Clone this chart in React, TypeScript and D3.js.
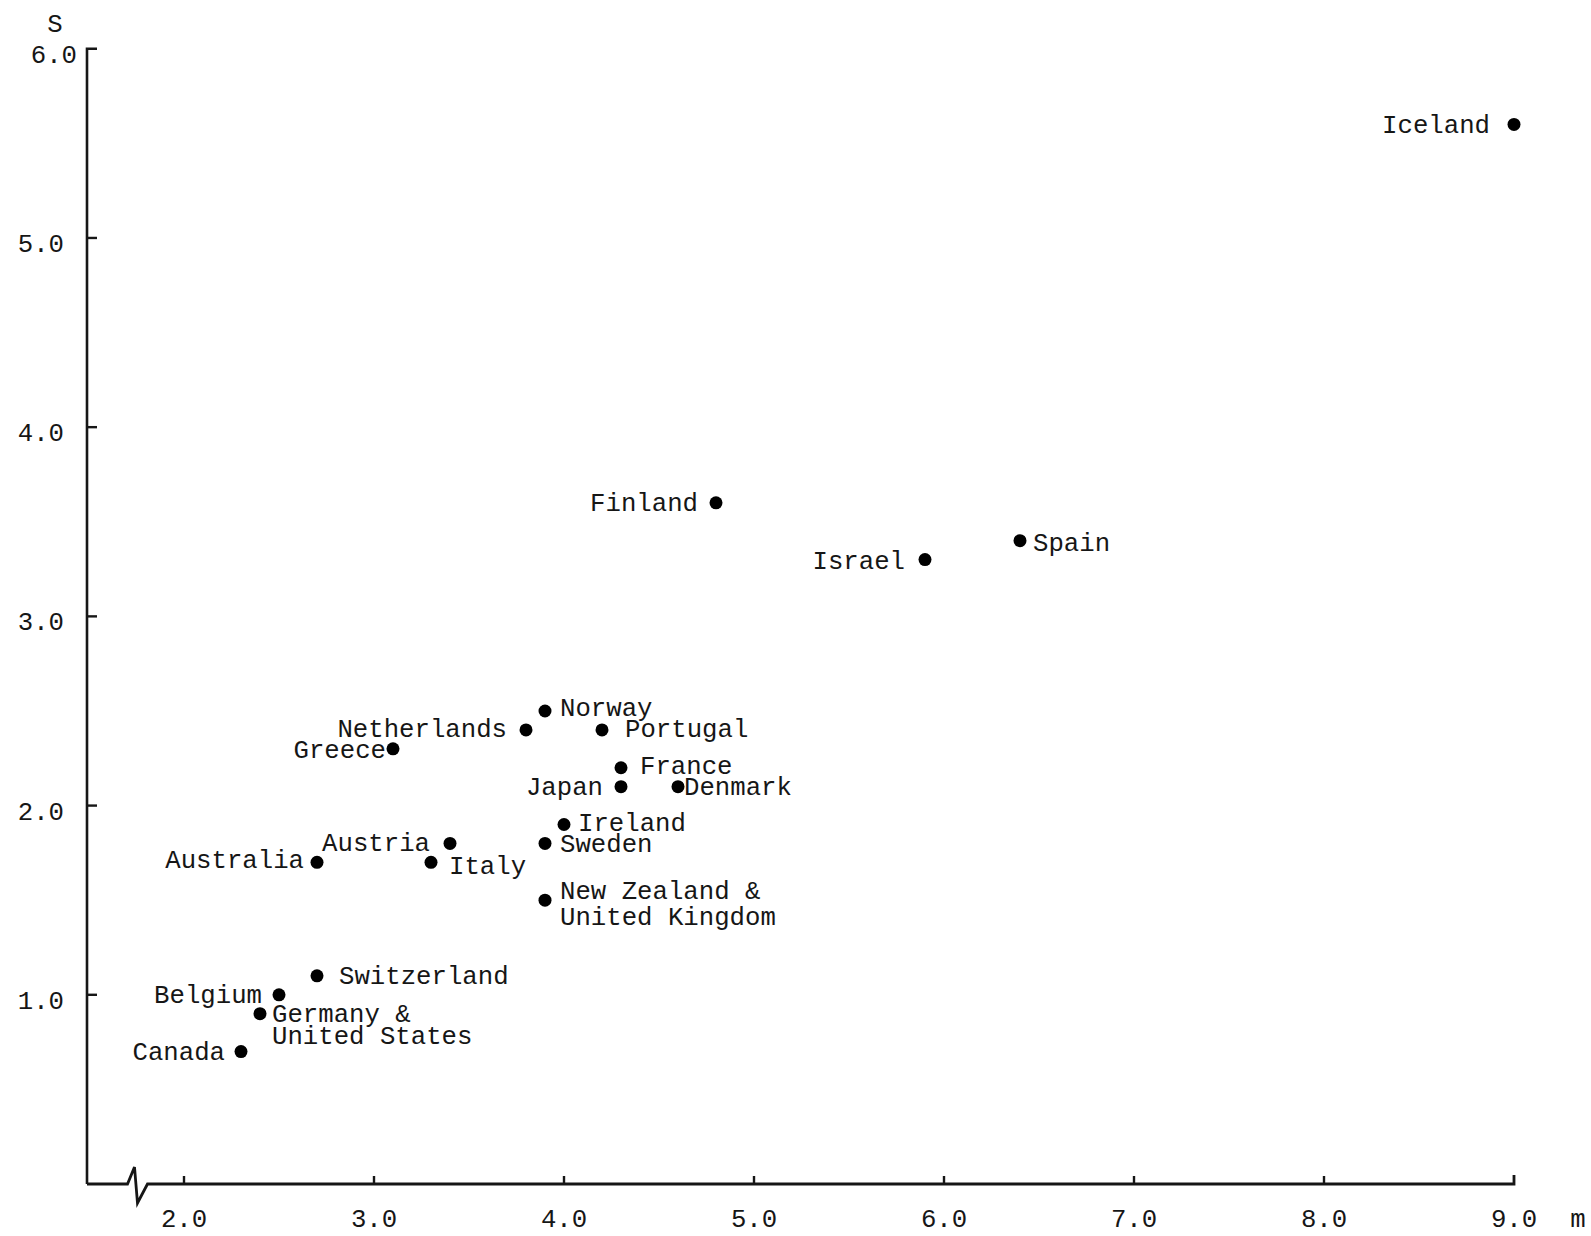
import React from 'react';
import * as d3 from 'd3';

// m on the x axis, S on the y axis
const countries = [
  'Iceland', 'Finland', 'Spain', 'Israel', 'Norway', 'Netherlands', 'Portugal',
  'Greece', 'France', 'Japan', 'Denmark', 'Ireland', 'Sweden', 'Austria',
  'Australia', 'Italy', 'New Zealand &\nUnited Kingdom', 'Switzerland', 'Belgium',
  'Germany &\nUnited States', 'Canada',
];
const mValues = [9.0, 4.8, 6.4, 5.9, 3.9, 3.8, 4.2, 3.1, 4.3, 4.3, 4.6, 4.0, 3.9, 3.4, 2.7, 3.3, 3.9, 2.7, 2.5, 2.4, 2.3];
const sValues = [5.6, 3.6, 3.4, 3.3, 2.5, 2.4, 2.4, 2.3, 2.2, 2.1, 2.1, 1.9, 1.8, 1.8, 1.7, 1.7, 1.5, 1.1, 1.0, 0.9, 0.7];

const xTicks = [2, 3, 4, 5, 6, 7, 8, 9];
const yTicks = [1, 2, 3, 4, 5, 6];

// where each label sits next to its dot (anchor, offset from the dot, line gap)
const labelPlacement = [
  { anchor: 'end', dx: -24, dy: 9 },
  { anchor: 'end', dx: -18, dy: 8 },
  { anchor: 'start', dx: 13, dy: 10 },
  { anchor: 'end', dx: -20, dy: 9 },
  { anchor: 'start', dx: 15, dy: 5 },
  { anchor: 'end', dx: -19, dy: 7 },
  { anchor: 'start', dx: 23, dy: 7 },
  { anchor: 'end', dx: -7, dy: 9 },
  { anchor: 'start', dx: 19, dy: 6 },
  { anchor: 'end', dx: -18, dy: 8 },
  { anchor: 'start', dx: 6, dy: 8 },
  { anchor: 'start', dx: 14, dy: 6 },
  { anchor: 'start', dx: 15, dy: 9 },
  { anchor: 'end', dx: -20, dy: 8 },
  { anchor: 'end', dx: -13, dy: 6 },
  { anchor: 'start', dx: 18, dy: 12 },
  { anchor: 'start', dx: 15, dy: -1, lh: 26 },
  { anchor: 'start', dx: 22, dy: 8 },
  { anchor: 'end', dx: -17, dy: 8 },
  { anchor: 'start', dx: 12, dy: 8, lh: 22 },
  { anchor: 'end', dx: -16, dy: 8 },
];

const W = 1591;
const H = 1236;
const FONT = '"Liberation Mono", "DejaVu Sans Mono", monospace';
const FS = 25.7;
const INK = '#161616';

const App = () => {
  const x = d3.scaleLinear().domain([2, 9]).range([184, 1514]);
  const y = d3.scaleLinear().domain([0, 6]).range([1184, 48.75]);

  const axisX = 87;
  const axisY = y(0);
  const xEnd = x(9);
  const yTop = y(6);
  const brk = x(1.75);

  // x axis with the broken-scale zigzag near the origin
  const xAxisPts: [number, number][] = [
    [axisX, axisY],
    [brk - 9, axisY],
    [brk - 2, axisY - 17],
    [brk + 1, axisY + 19],
    [brk + 11, axisY],
    [xEnd, axisY],
    [xEnd, axisY - 9],
  ];
  const yAxisPts: [number, number][] = [
    [axisX + 10, yTop],
    [axisX, yTop],
    [axisX, axisY],
  ];
  const line = d3.line();

  const points = countries.map((c, i) => ({
    lines: c.split('\n'),
    cx: x(mValues[i]),
    cy: y(sValues[i]),
    ...labelPlacement[i],
  }));

  return (
    <svg width={W} height={H} style={{ position: 'absolute', left: 0, top: 0, background: '#fff' }}
      fontFamily={FONT} fontSize={FS} fill={INK}>
      <path d={line(xAxisPts) || ''} fill="none" stroke={INK} strokeWidth={2.8} strokeLinejoin="miter" />
      <path d={line(yAxisPts) || ''} fill="none" stroke={INK} strokeWidth={2.6} />

      {yTicks.filter(t => t < 6).map(t => (
        <line key={'yt' + t} x1={axisX} x2={axisX + 10} y1={y(t)} y2={y(t)} stroke={INK} strokeWidth={2.4} />
      ))}
      {yTicks.map(t => (
        <text key={'yl' + t} x={t === 6 ? 77 : 64} y={y(t) + 14} textAnchor="end">
          {t.toFixed(1)}
        </text>
      ))}

      {xTicks.filter(t => t < 9).map(t => (
        <line key={'xt' + t} x1={x(t)} x2={x(t)} y1={axisY} y2={axisY - 8} stroke={INK} strokeWidth={2.4} />
      ))}
      {xTicks.map(t => (
        <text key={'xl' + t} x={x(t)} y={1227} textAnchor="middle">
          {t.toFixed(1)}
        </text>
      ))}

      <text x={55} y={32} textAnchor="middle">S</text>
      <text x={1578} y={1227} textAnchor="middle">m</text>

      {points.map((p, i) => (
        <g key={i}>
          <circle cx={p.cx} cy={p.cy} r={6.5} fill="#000" />
          <text x={p.cx + p.dx} y={p.cy + p.dy} textAnchor={p.anchor}>
            {p.lines.map((l, j) => (
              <tspan key={j} x={p.cx + p.dx} dy={j === 0 ? 0 : (p.lh || 24)}>{l}</tspan>
            ))}
          </text>
        </g>
      ))}
    </svg>
  );
};

export default App;
